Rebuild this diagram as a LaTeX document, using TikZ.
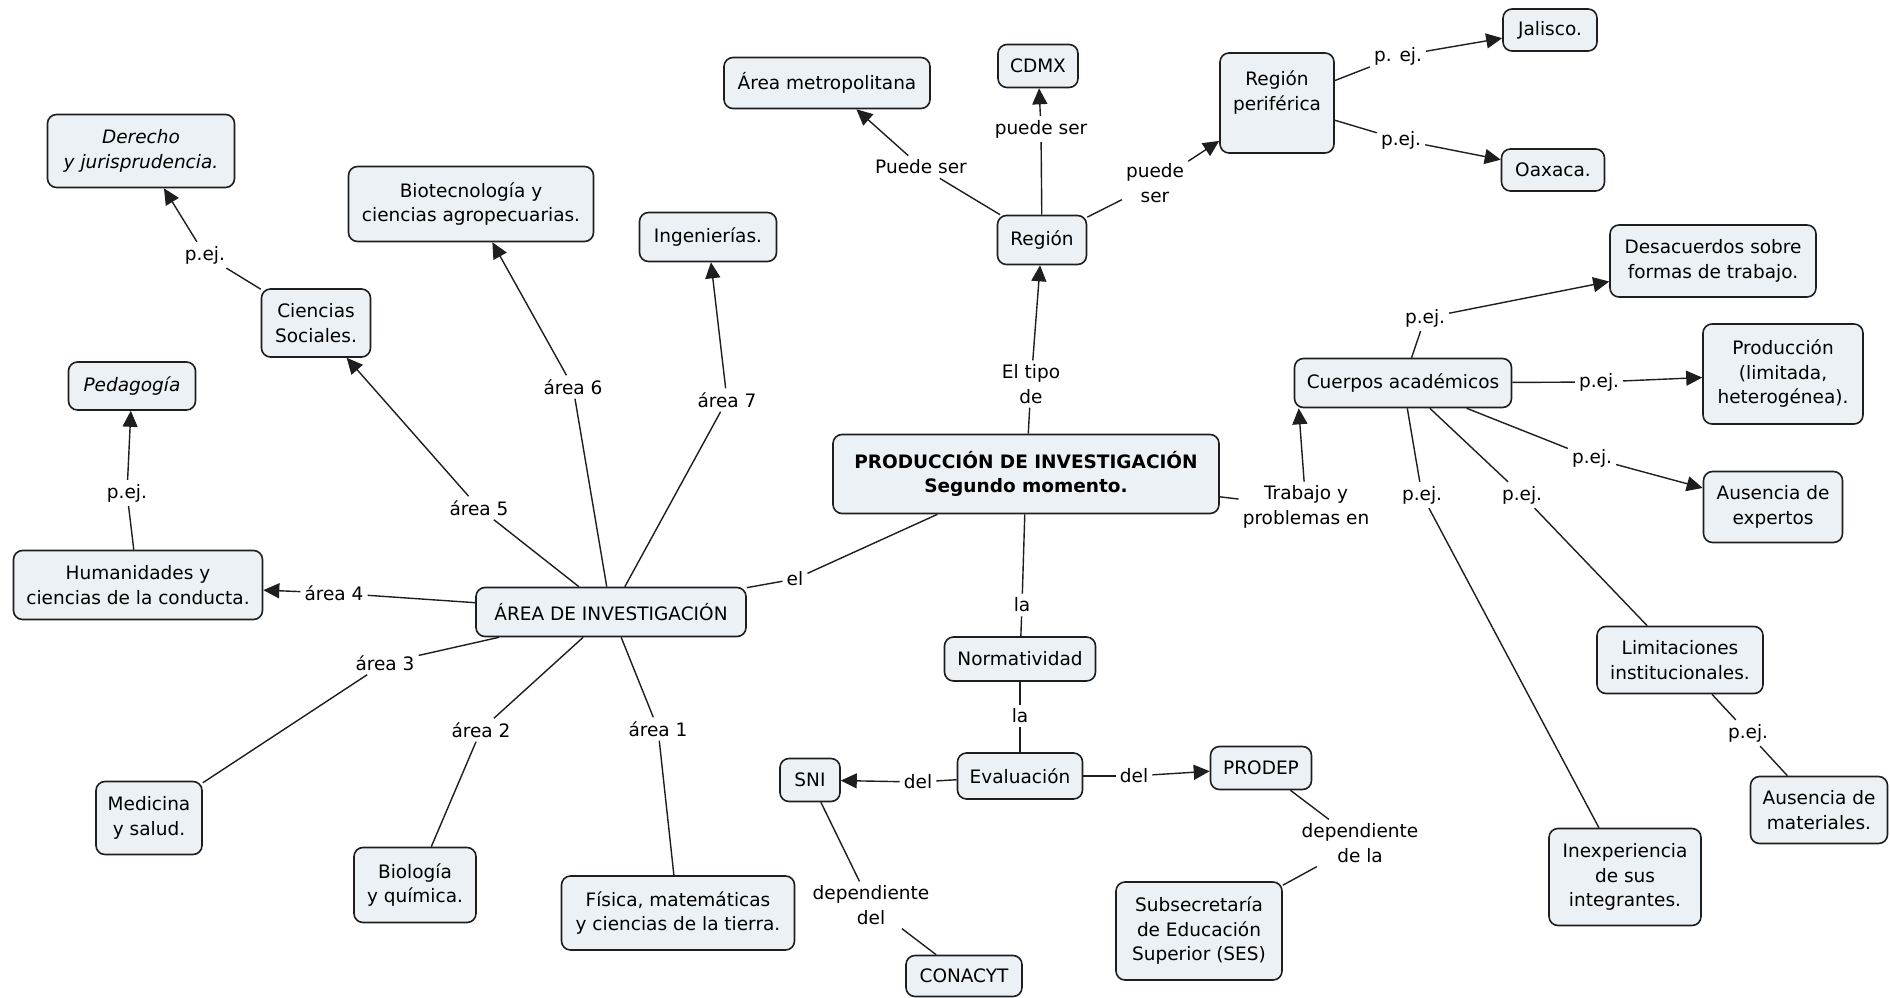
\documentclass[tikz,border=0pt]{standalone}
\usepackage{fontspec}
\setmainfont{DejaVu Sans}
\usepackage{tikz}
\usetikzlibrary{arrows.meta, positioning, calc}
\usepackage{xcolor}
\definecolor{mapfill}{HTML}{EBF1F4}
\definecolor{mapline}{HTML}{1E1E1E}
\newcommand{\mapfont}{\fontsize{18.5}{24.5}\selectfont}

\begin{document}
\begin{tikzpicture}[
  x=1pt, y=-1pt,
  concept/.style={draw=mapline, line width=1.6pt, fill=mapfill,
    rounded corners=9pt, align=center, font=\mapfont, inner sep=2pt},
  link/.style={align=center, font=\mapfont, inner sep=4pt},
  conn/.style={draw=mapline, line width=1.4pt},
  >={Triangle[length=16pt, width=15pt]}
]
  \useasboundingbox[fill=white] (0,0) rectangle (1890,998);

  % central concept
  \node[concept, font=\mapfont\bfseries, minimum width=386, minimum height=79] (prod) at (1026,474)
    {PRODUCCIÓN DE INVESTIGACIÓN\\Segundo momento.};

  % research areas
  \node[concept, minimum width=270, minimum height=49] (area) at (611,612) {ÁREA DE INVESTIGACIÓN};
  \node[concept, font=\mapfont\itshape, minimum width=187, minimum height=73] (derecho) at (141,151)
    {Derecho\\y jurisprudencia.};
  \node[concept, minimum width=245, minimum height=75] (bio) at (471,204)
    {Biotecnología y\\ciencias agropecuarias.};
  \node[concept, minimum width=137, minimum height=49] (ing) at (708,237) {Ingenierías.};
  \node[concept, minimum width=109, minimum height=68] (cs) at (316,323) {Ciencias\\Sociales.};
  \node[concept, font=\mapfont\itshape, minimum width=127, minimum height=48] (ped) at (132,386) {Pedagogía};
  \node[concept, minimum width=249, minimum height=69] (hum) at (138,585)
    {Humanidades y\\ciencias de la conducta.};
  \node[concept, minimum width=106, minimum height=73] (med) at (149,818) {Medicina\\y salud.};
  \node[concept, minimum width=122, minimum height=75] (biol) at (415,885) {Biología\\y química.};
  \node[concept, minimum width=233, minimum height=74] (fis) at (678,913)
    {Física, matemáticas\\y ciencias de la tierra.};

  % region
  \node[concept, minimum width=89, minimum height=49] (region) at (1042,240) {Región};
  \node[concept, minimum width=206, minimum height=51] (metro) at (827,83) {Área metropolitana};
  \node[concept, minimum width=80, minimum height=43] (cdmx) at (1038,66) {CDMX};
  \node[concept, minimum width=114, minimum height=100] (regper) at (1277,103) {Región\\periférica\\~};
  \node[concept, minimum width=94, minimum height=42] (jal) at (1550,30) {Jalisco.};
  \node[concept, minimum width=103, minimum height=42] (oax) at (1553,170) {Oaxaca.};

  % academic bodies
  \node[concept, minimum width=217, minimum height=49] (cuerpos) at (1403,383) {Cuerpos académicos};
  \node[concept, minimum width=206, minimum height=72] (desac) at (1713,261)
    {Desacuerdos sobre\\formas de trabajo.};
  \node[concept, minimum width=160, minimum height=100] (produc) at (1783,374)
    {Producción\\(limitada,\\heterogénea).};
  \node[concept, minimum width=139, minimum height=71] (ausexp) at (1773,507) {Ausencia de\\expertos};
  \node[concept, minimum width=166, minimum height=67] (limit) at (1680,660)
    {Limitaciones\\institucionales.};
  \node[concept, minimum width=137, minimum height=67] (ausmat) at (1819,810) {Ausencia de\\materiales.};
  \node[concept, minimum width=152, minimum height=97] (inexp) at (1625,877)
    {Inexperiencia\\de sus\\integrantes.};

  % norms and evaluation
  \node[concept, minimum width=151, minimum height=44] (norm) at (1020,659) {Normatividad};
  \node[concept, minimum width=125, minimum height=46] (eval) at (1020,776) {Evaluación};
  \node[concept, minimum width=60, minimum height=43] (sni) at (810,780) {SNI};
  \node[concept, minimum width=101, minimum height=43] (prodep) at (1261,768) {PRODEP};
  \node[concept, minimum width=116, minimum height=41] (conacyt) at (964,976) {CONACYT};
  \node[concept, minimum width=166, minimum height=98] (ses) at (1199,931)
    {Subsecretaría\\de Educación\\Superior (SES)};

  % linking phrases
  \node[link] (lder) at (205,255) {p.ej.};
  \node[link] (la6) at (573,387) {área 6};
  \node[link] (la7) at (727,400) {área 7};
  \node[link] (la5) at (479,508) {área 5};
  \node[link] (la4) at (334,593) {área 4};
  \node[link] (lped) at (127,493) {p.ej.};
  \node[link] (la3) at (385,663) {área 3};
  \node[link] (la2) at (481,730) {área 2};
  \node[link] (la1) at (658,729) {área 1};
  \node[link] (lel) at (795,579) {el};
  \node[link] (lmetro) at (921,167) {Puede ser};
  \node[link] (lcdmx) at (1041,129) {puede ser};
  \node[link] (lregper) at (1155,183) {puede\\ser};
  \node[link] (ljal) at (1398,56) {p. ej.};
  \node[link] (loax) at (1401,140) {p.ej.};
  \node[link] (ltipo) at (1031,384) {El tipo\\de};
  \node[link] (ltrab) at (1306,507) {Trabajo y\\problemas en};
  \node[link] (ldesac) at (1425,318) {p.ej.};
  \node[link] (lproduc) at (1599,382) {p.ej.};
  \node[link] (lausexp) at (1592,458) {p.ej.};
  \node[link] (linexp) at (1422,495) {p.ej.};
  \node[link] (llimit) at (1522,495) {p.ej.};
  \node[link] (lausmat) at (1748,733) {p.ej.};
  \node[link] (lnorm) at (1022,605) {la};
  \node[link] (leval) at (1020,716) {la};
  \node[link] (lsni) at (918,782) {del};
  \node[link] (lprodep) at (1134,776) {del};
  \node[link] (lconacyt) at (871,905) {dependiente\\del};
  \node[link] (lses) at (1360,843) {dependiente\\de la};

  % area connectors
  \draw[conn] (prod) -- (lel);
  \draw[conn] (lel) -- (area);
  \draw[conn] (area) -- (la6);
  \draw[conn, ->] (la6) -- (bio);
  \draw[conn] (area) -- (la7);
  \draw[conn, ->] (la7) -- (ing);
  \draw[conn] (area) -- (la5);
  \draw[conn, ->] (la5) -- (cs);
  \draw[conn] (cs) -- (lder);
  \draw[conn, ->] (lder) -- (derecho);
  \draw[conn] (area) -- (la4);
  \draw[conn, ->] (la4) -- (hum);
  \draw[conn] (hum) -- (lped);
  \draw[conn, ->] (lped) -- (ped);
  \draw[conn] (area) -- (la3);
  \draw[conn] (la3) -- (med);
  \draw[conn] (area) -- (la2);
  \draw[conn] (la2) -- (biol);
  \draw[conn] (area) -- (la1);
  \draw[conn] (la1) -- (fis);

  % region connectors
  \draw[conn] (prod) -- (ltipo);
  \draw[conn, ->] (ltipo) -- (region);
  \draw[conn] (region) -- (lmetro);
  \draw[conn, ->] (lmetro) -- (metro);
  \draw[conn] (region) -- (lcdmx);
  \draw[conn, ->] (lcdmx) -- (cdmx);
  \draw[conn] (region) -- (lregper);
  \draw[conn, ->] (lregper) -- (regper);
  \draw[conn] (regper) -- (ljal);
  \draw[conn, ->] (ljal) -- (jal);
  \draw[conn] (regper) -- (loax);
  \draw[conn, ->] (loax) -- (oax);

  % academic bodies connectors
  \draw[conn] (prod) -- (ltrab);
  \draw[conn, ->] (ltrab) -- ([xshift=5pt]cuerpos.south west);
  \draw[conn] (cuerpos) -- (ldesac);
  \draw[conn, ->] (ldesac) -- (desac);
  \draw[conn] (cuerpos) -- (lproduc);
  \draw[conn, ->] (lproduc) -- (produc);
  \draw[conn] (cuerpos) -- (lausexp);
  \draw[conn, ->] (lausexp) -- (ausexp);
  \draw[conn] (cuerpos) -- (linexp);
  \draw[conn] (linexp) -- (inexp);
  \draw[conn] (cuerpos) -- (llimit);
  \draw[conn] (llimit) -- (limit);
  \draw[conn] (limit) -- (lausmat);
  \draw[conn] (lausmat) -- (ausmat);

  % norms connectors
  \draw[conn] (prod) -- (lnorm);
  \draw[conn] (lnorm) -- (norm);
  \draw[conn] (norm) -- (leval);
  \draw[conn] (leval) -- (eval);
  \draw[conn] (eval) -- (lsni);
  \draw[conn, ->] (lsni) -- (sni);
  \draw[conn] (eval) -- (lprodep);
  \draw[conn, ->] (lprodep) -- (prodep);
  \draw[conn] (sni) -- (lconacyt);
  \draw[conn] (lconacyt) -- (conacyt);
  \draw[conn] (prodep) -- (lses);
  \draw[conn] (lses) -- (ses);
\end{tikzpicture}
\end{document}
